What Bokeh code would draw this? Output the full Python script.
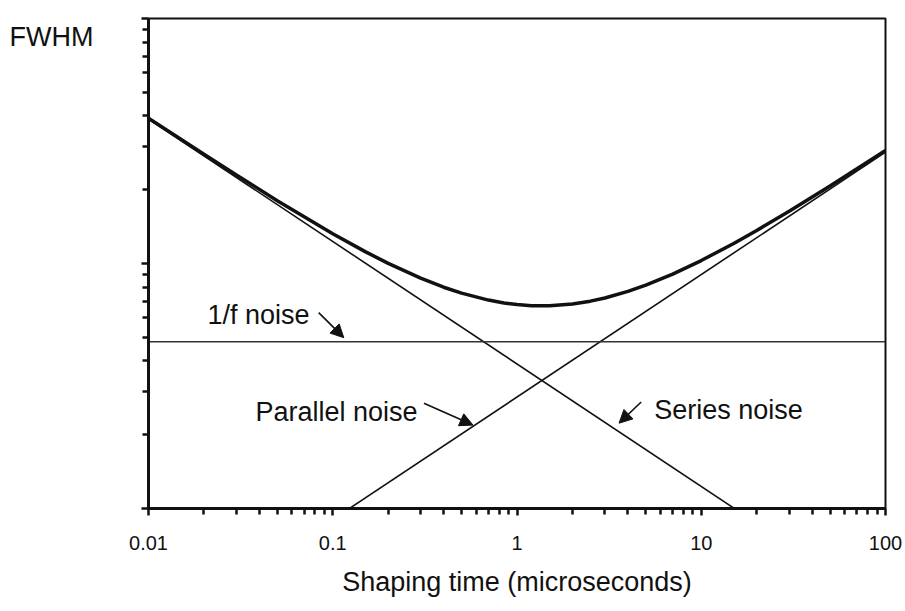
from bokeh.plotting import figure
from bokeh.models import (Range1d, Label, Arrow, NormalHead, FixedTicker,
                          CustomJSTickFormatter)
from bokeh.embed import file_html
from bokeh.resources import INLINE

# Noise contributions to the FWHM versus amplifier shaping time (arbitrary units)
tau_ends = [0.01, 100.0]
series_noise = [38.9, 0.389]
parallel_noise = [0.285, 28.5]
flicker_noise = [4.79, 4.79]

# Total noise (all contributions added in quadrature)
tau_total = [0.01, 0.02, 0.03, 0.05, 0.1, 0.15, 0.2, 0.3, 0.4, 0.5, 0.7, 0.85,
             1.0, 1.2, 1.5, 2.0, 2.5, 3.0, 4.0, 5.0, 7.0, 10.0, 15.0, 20.0,
             30.0, 50.0, 100.0]
total_noise = [39.2, 27.9, 22.97, 18.05, 13.23, 11.18, 10.01, 8.71, 8.0, 7.57,
               7.09, 6.90, 6.80, 6.73, 6.72, 6.84, 7.02, 7.23, 7.70, 8.16, 9.05,
               10.28, 12.07, 13.64, 16.34, 20.72, 28.9]

x_major = [0.01, 0.1, 1, 10, 100]
x_minor = [d * k for d in [0.01, 0.1, 1, 10] for k in range(2, 10)]
y_major = [1, 10, 100]
y_minor = [d * k for d in [1, 10] for k in range(2, 10)]

FONT = "Liberation Sans"
INK = "#111111"

p = figure(width=905, height=611, x_axis_type="log", y_axis_type="log",
           x_range=Range1d(0.01, 100), y_range=Range1d(1, 100),
           output_backend="svg", toolbar_location=None,
           min_border_left=148, min_border_right=20,
           min_border_top=18, min_border_bottom=103)

p.background_fill_color = "white"
p.border_fill_color = "white"
p.outline_line_color = INK
p.outline_line_width = 2
p.xgrid.visible = False
p.ygrid.visible = False

# x axis
xa = p.xaxis[0]
xa.ticker = FixedTicker(ticks=x_major, minor_ticks=x_minor)
xa.formatter = CustomJSTickFormatter(code="return tick.toString();")
xa.axis_line_width = 3
xa.axis_line_color = INK
xa.major_tick_line_width = 2.5
xa.minor_tick_line_width = 2.5
xa.major_tick_line_color = INK
xa.minor_tick_line_color = INK
xa.major_tick_in = 0
xa.major_tick_out = 7
xa.minor_tick_in = 0
xa.minor_tick_out = 6
xa.major_label_text_font = FONT
xa.major_label_text_font_size = "20px"
xa.major_label_text_color = INK
xa.major_label_standoff = 20
xa.axis_label = "Shaping time (microseconds)"
xa.axis_label_text_font = FONT
xa.axis_label_text_font_size = "27px"
xa.axis_label_text_font_style = "normal"
xa.axis_label_text_color = INK
xa.axis_label_standoff = 14

# y axis: no tick labels, quantity name set horizontally near the top
ya = p.yaxis[0]
ya.ticker = FixedTicker(ticks=y_major, minor_ticks=y_minor)
ya.formatter = CustomJSTickFormatter(code="return '';")
ya.axis_line_width = 3
ya.axis_line_color = INK
ya.major_tick_line_width = 2.5
ya.minor_tick_line_width = 2.5
ya.major_tick_line_color = INK
ya.minor_tick_line_color = INK
ya.major_tick_in = 0
ya.major_tick_out = 7
ya.minor_tick_in = 0
ya.minor_tick_out = 6
ya.major_label_standoff = 0
ya.axis_label = "\nFWHM"
ya.axis_label_orientation = "horizontal"
ya.axis_label_align = "end"
ya.axis_label_text_font = FONT
ya.axis_label_text_font_size = "27px"
ya.axis_label_text_font_style = "normal"
ya.axis_label_text_color = INK
ya.axis_label_standoff = 48

# component lines
p.line(tau_ends, series_noise, line_color=INK, line_width=1.6)
p.line(tau_ends, parallel_noise, line_color=INK, line_width=1.6)
p.line(tau_ends, flicker_noise, line_color="#333333", line_width=1.4)

# total noise curve
p.line(tau_total, total_noise, line_color=INK, line_width=3.5)

# annotations
def add_label(x, y, text, size="27px"):
    p.add_layout(Label(x=x, y=y, text=text, text_font=FONT,
                       text_font_size=size, text_color=INK,
                       text_baseline="alphabetic"))

add_label(0.0209, 6.18, "1/f noise")
add_label(0.0381, 2.47, "Parallel noise")
add_label(5.55, 2.52, "Series noise")

def add_arrow(x0, y0, x1, y1):
    p.add_layout(Arrow(end=NormalHead(size=13, fill_color=INK, line_color=INK),
                       x_start=x0, y_start=y0, x_end=x1, y_end=y1,
                       line_color=INK, line_width=1.6))

add_arrow(0.0839, 6.30, 0.1148, 4.98)
add_arrow(0.3125, 2.69, 0.577, 2.19)
add_arrow(4.72, 2.72, 3.58, 2.23)

open("out.html", "w").write(file_html(p, INLINE))
